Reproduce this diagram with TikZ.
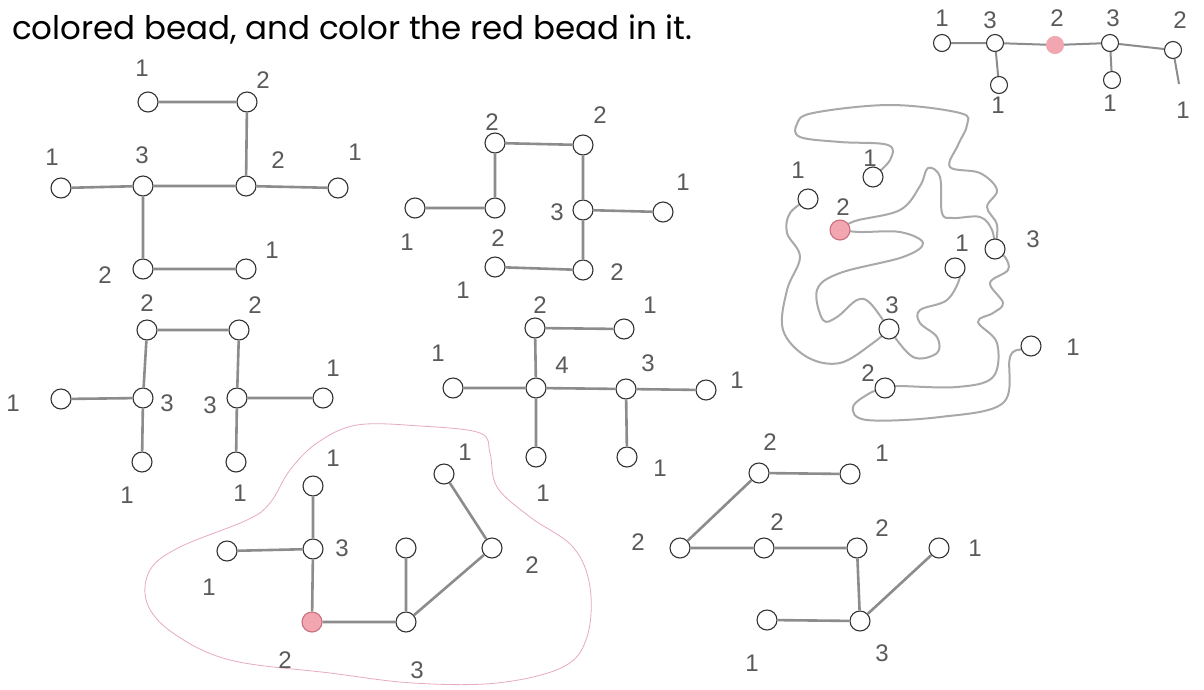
\documentclass[tikz,border=0pt]{standalone}
\usepackage{fontspec}
\newfontfamily\headfont{Poppins}
\newfontfamily\labfont{Liberation Sans}
\definecolor{edgegray}{HTML}{8C8C8C}
\definecolor{squiggray}{HTML}{A9A9A9}
\definecolor{labgray}{HTML}{5A5A5A}
\definecolor{beadpink}{HTML}{F2A7B0}
\definecolor{beadred}{HTML}{C9707E}
\definecolor{blobpink}{HTML}{E7A9C6}
\pgfdeclarelayer{bg}
\pgfsetlayers{bg,main}
\begin{document}
\begin{tikzpicture}[x=1pt,y=-1pt]
\begin{pgfonlayer}{bg}
\fill[white] (0,0) rectangle (1204,689);
\end{pgfonlayer}
\useasboundingbox (0,0) rectangle (1204,689);
\tikzset{
 bead/.style={circle,draw=black!80,line width=1.1pt,fill=white,minimum size=20pt,inner sep=0pt},
 sbead/.style={bead,minimum size=17pt},
 redbead/.style={bead,fill=beadpink,draw=beadred},
 edge/.style={draw=edgegray,line width=2.6pt},
 squig/.style={draw=squiggray,line width=2pt,line cap=round},
 lab/.style={text=labgray,font=\labfont\fontsize{24}{24}\selectfont,inner sep=0pt},
 head/.style={font=\headfont\fontsize{32.5}{32.5}\selectfont,anchor=base west,inner sep=0pt},
 blob/.style={draw=blobpink,line width=0.8pt},
}
% heading
\node[head] (title) at (12,39) {colored bead, and color the red bead in it.};

% ---------- graph A ----------
\node[bead] (A1) at (148,102) {};
\node[bead] (A2) at (247,102) {};
\node[bead] (A3) at (143,186) {};
\node[bead] (A4) at (246,186) {};
\node[bead] (A5) at (61,188) {};
\node[bead] (A6) at (338,188) {};
\node[bead] (A7) at (143,269) {};
\node[bead] (A8) at (246,269) {};
\draw[edge] (A1)--(A2) (A2)--(A4) (A5)--(A3) (A3)--(A4) (A4)--(A6) (A3)--(A7) (A7)--(A8);
\node[lab] (a1) at (142,68) {1};
\node[lab] (a2) at (263,80) {2};
\node[lab] (a3) at (142,155) {3};
\node[lab] (a4) at (278,160) {2};
\node[lab] (a5) at (52,157) {1};
\node[lab] (a6) at (355,152) {1};
\node[lab] (a7) at (105,275) {2};
\node[lab] (a8) at (272,250) {1};

% ---------- graph B ----------
\node[bead] (B1) at (495,143) {};
\node[bead] (B2) at (583,145) {};
\node[bead] (B3) at (415,208) {};
\node[bead] (B4) at (495,208) {};
\node[bead] (B5) at (583,210) {};
\node[bead] (B6) at (663,212) {};
\node[bead] (B7) at (495,267) {};
\node[bead] (B8) at (583,270) {};
\draw[edge] (B1)--(B2) (B1)--(B4) (B3)--(B4) (B2)--(B5) (B5)--(B6) (B5)--(B8) (B7)--(B8);
\node[lab] (b1) at (492,122) {2};
\node[lab] (b2) at (600,115) {2};
\node[lab] (b3) at (407,242) {1};
\node[lab] (b4) at (498,238) {2};
\node[lab] (b5) at (557,212) {3};
\node[lab] (b6) at (683,182) {1};
\node[lab] (b7) at (463,290) {1};
\node[lab] (b8) at (617,272) {2};

% ---------- graph C ----------
\node[bead] (C1) at (147,330) {};
\node[bead] (C2) at (239,330) {};
\node[bead] (C3) at (61,399) {};
\node[bead] (C4) at (143,398) {};
\node[bead] (C5) at (237,398) {};
\node[bead] (C6) at (323,398) {};
\node[bead] (C7) at (142,462) {};
\node[bead] (C8) at (236,462) {};
\draw[edge] (C1)--(C2) (C1)--(C4) (C3)--(C4) (C2)--(C5) (C5)--(C6) (C4)--(C7) (C5)--(C8);
\node[lab] (c1) at (147,303) {2};
\node[lab] (c2) at (255,305) {2};
\node[lab] (c3) at (13,403) {1};
\node[lab] (c4) at (167,403) {3};
\node[lab] (c5) at (210,405) {3};
\node[lab] (c6) at (333,368) {1};
\node[lab] (c7) at (127,495) {1};
\node[lab] (c8) at (240,493) {1};

% ---------- graph D ----------
\node[bead] (D1) at (535,328) {};
\node[bead] (D2) at (624,329) {};
\node[bead] (D3) at (453,388) {};
\node[bead] (D4) at (536,388) {};
\node[bead] (D5) at (626,389) {};
\node[bead] (D6) at (706,390) {};
\node[bead] (D7) at (536,457) {};
\node[bead] (D8) at (627,457) {};
\draw[edge] (D1)--(D2) (D1)--(D4) (D3)--(D4) (D4)--(D5) (D5)--(D6) (D4)--(D7) (D5)--(D8);
\node[lab] (d1) at (540,305) {2};
\node[lab] (d2) at (650,305) {1};
\node[lab] (d3) at (438,353) {1};
\node[lab] (d4) at (562,365) {4};
\node[lab] (d5) at (648,363) {3};
\node[lab] (d6) at (737,380) {1};
\node[lab] (d7) at (543,493) {1};
\node[lab] (d8) at (660,468) {1};

% ---------- graph E (circled) ----------
\draw[blob] plot[smooth cycle,tension=0.6] coordinates {(357,425) (420,426) (480,433) (490,453) (497,487) (530,517) (573,547) (590,587) (587,637) (563,667) (497,683) (413,683) (330,673) (230,660) (173,633) (147,603) (150,570) (180,547) (247,520) (270,503) (290,470) (317,443)};
\node[bead] (E1) at (313,486) {};
\node[bead] (E2) at (227,551) {};
\node[bead] (E3) at (313,549) {};
\node[redbead] (E4) at (312,622) {};
\node[bead] (E5) at (406,622) {};
\node[bead] (E6) at (406,548) {};
\node[bead] (E7) at (492,548) {};
\node[bead] (E8) at (444,474) {};
\draw[edge] (E1)--(E3) (E2)--(E3) (E3)--(E4) (E4)--(E5) (E6)--(E5) (E5)--(E7) (E7)--(E8);
\node[lab] (e1) at (333,458) {1};
\node[lab] (e2) at (209,587) {1};
\node[lab] (e3) at (342,548) {3};
\node[lab] (e4) at (285,660) {2};
\node[lab] (e5) at (417,670) {3};
\node[lab] (e7) at (532,565) {2};
\node[lab] (e8) at (465,452) {1};

% ---------- graph F ----------
\node[bead] (F1) at (759,473) {};
\node[bead] (F2) at (850,474) {};
\node[bead] (F3) at (680,548) {};
\node[bead] (F4) at (764,548) {};
\node[bead] (F5) at (857,548) {};
\node[bead] (F6) at (939,548) {};
\node[bead] (F7) at (767,620) {};
\node[bead] (F8) at (860,621) {};
\draw[edge] (F1)--(F2) (F3)--(F1) (F3)--(F4) (F4)--(F5) (F5)--(F8) (F7)--(F8) (F8)--(F6);
\node[lab] (f1) at (770,442) {2};
\node[lab] (f2) at (882,453) {1};
\node[lab] (f3) at (638,542) {2};
\node[lab] (f4) at (777,522) {2};
\node[lab] (f5) at (882,528) {2};
\node[lab] (f6) at (975,548) {1};
\node[lab] (f7) at (752,663) {1};
\node[lab] (f8) at (882,653) {3};

% ---------- graph G (top right) ----------
\node[sbead] (G1) at (942,43) {};
\node[sbead] (G2) at (995,43) {};
\node[sbead,fill=beadpink,draw=beadpink] (G3) at (1055,45) {};
\node[sbead] (G4) at (1110,43) {};
\node[sbead] (G5) at (1173,50) {};
\node[sbead] (G6) at (999,85) {};
\node[sbead] (G7) at (1112,80) {};
\coordinate (G8) at (1179,84);
\draw[edge,line width=2pt] (G1)--(G2) (G2)--(G3) (G3)--(G4) (G4)--(G5) (G2)--(G6) (G4)--(G7) (G5)--(G8);
\node[lab] (g1) at (942,18) {1};
\node[lab] (g2) at (990,20) {3};
\node[lab] (g3) at (1057,18) {2};
\node[lab] (g4) at (1113,18) {3};
\node[lab] (g5) at (1180,20) {2};
\node[lab] (g6) at (998,105) {1};
\node[lab] (g7) at (1110,103) {1};
\node[lab] (g8) at (1183,110) {1};

% ---------- graph H (squiggly) ----------
\node[bead] (H1) at (808,199) {};
\node[bead] (H2) at (873,177) {};
\node[redbead] (H3) at (840,230) {};
\node[bead] (H4) at (995,249) {};
\node[bead] (H5) at (955,268) {};
\node[bead] (H6) at (889,329) {};
\node[bead] (H7) at (1031,346) {};
\node[bead] (H8) at (885,388) {};
\begin{pgfonlayer}{bg}
\draw[squig] plot[smooth,tension=0.6] coordinates {(H2) (890,160) (888,145) (840,142) (800,137) (797,124) (813,113) (890,105) (960,113) (967,125) (958,145) (950,167) (980,173) (997,190) (987,207) (997,225) (H4)};
\draw[squig] plot[smooth,tension=0.6] coordinates {(H3) (855,221) (900,210) (920,186) (928,168) (940,177) (942,213) (953,218) (980,217) (992,230) (H4)};
\draw[squig] plot[smooth,tension=0.6] coordinates {(H3) (860,232) (900,232) (923,243) (903,257) (840,273) (817,290) (823,320) (837,317) (857,300) (870,303) (H6)};
\draw[squig] plot[smooth,tension=0.6] coordinates {(H1) (790,213) (787,233) (800,257) (787,290) (783,330) (807,357) (840,363) (873,343) (H6)};
\draw[squig] plot[smooth,tension=0.6] coordinates {(H6) (913,357) (937,353) (937,337) (920,323) (920,310) (947,300) (960,277) (H5)};
\draw[squig] plot[smooth,tension=0.6] coordinates {(H4) (1005,257) (1008,270) (990,283) (1003,303) (993,313) (978,322) (997,343) (993,377) (957,387) (897,386) (H8)};
\draw[squig] plot[smooth,tension=0.6] coordinates {(H8) (870,393) (853,407) (867,420) (940,417) (1003,403) (1010,357) (1022,349) (H7)};
\end{pgfonlayer}
\node[lab] (h1) at (798,170) {1};
\node[lab] (h2) at (870,158) {1};
\node[lab] (h3) at (843,207) {2};
\node[lab] (h4) at (1033,239) {3};
\node[lab] (h5) at (962,243) {1};
\node[lab] (h6) at (892,305) {3};
\node[lab] (h7) at (1073,347) {1};
\node[lab] (h8) at (868,373) {2};
\end{tikzpicture}
\end{document}
